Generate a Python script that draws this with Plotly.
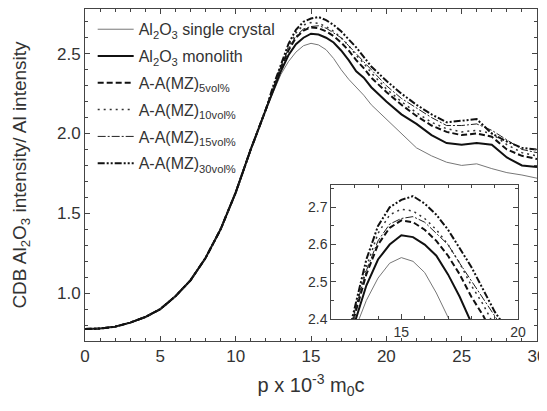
import plotly.graph_objects as go

# ---- data ----
p_rise = [0, 1, 2, 3, 4, 5, 6, 7, 8, 9, 10, 11, 12]
ratio_rise = [0.775, 0.778, 0.79, 0.815, 0.85, 0.90, 0.98, 1.08, 1.22, 1.40, 1.63, 1.90, 2.15]

p_tail = [12.5, 13, 13.5, 14, 14.5, 15, 15.5, 16, 16.5, 17, 17.5, 18, 18.5, 19,
          20, 21, 22, 23, 24, 25, 26, 27, 28, 29, 30]

single_crystal = [2.26, 2.37, 2.45, 2.51, 2.55, 2.565, 2.555, 2.525, 2.47, 2.40, 2.34, 2.29, 2.24, 2.18,
                  2.09, 2.00, 1.91, 1.86, 1.82, 1.80, 1.81, 1.78, 1.755, 1.74, 1.72]
monolith = [2.27, 2.39, 2.49, 2.56, 2.60, 2.625, 2.62, 2.60, 2.57, 2.52, 2.46, 2.39, 2.35, 2.29,
            2.20, 2.12, 2.06, 1.99, 1.94, 1.93, 1.94, 1.93, 1.85, 1.80, 1.79]
mz5 = [2.28, 2.41, 2.52, 2.60, 2.645, 2.665, 2.66, 2.64, 2.61, 2.57, 2.52, 2.46, 2.41, 2.35,
       2.26, 2.18, 2.11, 2.05, 2.01, 1.99, 2.00, 1.98, 1.90, 1.86, 1.84]
mz10 = [2.29, 2.42, 2.54, 2.63, 2.68, 2.695, 2.69, 2.67, 2.64, 2.60, 2.55, 2.49, 2.44, 2.38,
        2.28, 2.20, 2.13, 2.07, 2.03, 2.01, 2.02, 2.00, 1.93, 1.88, 1.86]
mz15 = [2.29, 2.42, 2.53, 2.61, 2.655, 2.67, 2.675, 2.66, 2.63, 2.60, 2.55, 2.50, 2.45, 2.40,
        2.30, 2.22, 2.16, 2.10, 2.05, 2.05, 2.06, 2.02, 1.96, 1.90, 1.88]
mz30 = [2.30, 2.43, 2.56, 2.65, 2.70, 2.72, 2.73, 2.71, 2.68, 2.64, 2.59, 2.54, 2.48, 2.42,
        2.33, 2.25, 2.18, 2.12, 2.07, 2.08, 2.09, 2.00, 1.95, 1.91, 1.90]

names = ["Al<sub>2</sub>O<sub>3</sub> single crystal",
         "Al<sub>2</sub>O<sub>3</sub> monolith",
         "A-A(MZ)<sub>5vol%</sub>",
         "A-A(MZ)<sub>10vol%</sub>",
         "A-A(MZ)<sub>15vol%</sub>",
         "A-A(MZ)<sub>30vol%</sub>"]
series = [single_crystal, monolith, mz5, mz10, mz15, mz30]
styles = [dict(color="#777777", width=1, dash="solid"),
          dict(color="#111111", width=2, dash="solid"),
          dict(color="#111111", width=2, dash="6px,3px"),
          dict(color="#333333", width=1.5, dash="2px,4px"),
          dict(color="#222222", width=1, dash="8px,2px,2px,2px"),
          dict(color="#111111", width=2, dash="7px,2px,2px,2px,2px,2px")]

FONT = "Liberation Sans, Arial, sans-serif"
fig = go.Figure()
px = p_rise + p_tail
for i, (nm, ys, st) in enumerate(zip(names, series, styles)):
    yy = ratio_rise + ys
    fig.add_trace(go.Scatter(x=px, y=yy, mode="lines", name=nm, line=st,
                             legendgroup=f"g{i}", xaxis="x", yaxis="y"))
    fig.add_trace(go.Scatter(x=px, y=yy, mode="lines", name=nm, line=st,
                             showlegend=False, xaxis="x2", yaxis="y2"))

axis_common = dict(showline=True, linecolor="#444", linewidth=1, mirror="allticks",
                   ticks="inside", ticklen=5, tickcolor="#444", showgrid=False,
                   zeroline=False, automargin=False, ticklabeloverflow="allow",
                   tickfont=dict(family=FONT, size=17, color="#333"))
inset_font = dict(family=FONT, size=14, color="#333")

# the page body adds an 8px offset, so the figure is sized to fit the window
fig.update_layout(
    width=539, height=403,
    margin=dict(l=77, r=10, t=1, b=70),
    paper_bgcolor="white", plot_bgcolor="white",
    font=dict(family=FONT, color="#333"),
    xaxis=dict(range=[0, 30], dtick=5, tick0=0,
               minor=dict(dtick=1, ticks="inside", ticklen=3, tickcolor="#444"),
               title=dict(text="p x 10<sup>-3</sup> m<sub>0</sub>c",
                          font=dict(size=20, family=FONT, color="#333"), standoff=12),
               **axis_common),
    yaxis=dict(range=[0.7, 2.78], tickvals=[1.0, 1.5, 2.0, 2.5], ticktext=["1.0", "1.5", "2.0", "2.5"],
               minor=dict(dtick=0.1, tick0=0, ticks="inside", ticklen=3, tickcolor="#444"),
               title=dict(text="CDB Al<sub>2</sub>O<sub>3</sub> intensity/ Al intensity",
                          font=dict(size=19, family=FONT, color="#333"), standoff=25),
               **axis_common),
    xaxis2=dict(domain=[0.545, 0.958], anchor="y2", range=[12, 20], tickvals=[15, 20],
                minor=dict(dtick=1, ticks="inside", ticklen=3, tickcolor="#444"),
                **{**axis_common, "tickfont": inset_font}),
    yaxis2=dict(domain=[0.066, 0.47], anchor="x2", range=[2.4, 2.76],
                tickvals=[2.4, 2.5, 2.6, 2.7],
                minor=dict(dtick=0.05, tick0=0, ticks="inside", ticklen=3, tickcolor="#444"),
                **{**axis_common, "tickfont": inset_font}),
    legend=dict(x=0.017, y=0.99, xanchor="left", yanchor="top", bgcolor="rgba(0,0,0,0)",
                font=dict(family=FONT, size=16, color="#333"), tracegroupgap=3,
                traceorder="grouped", itemwidth=36),
    showlegend=True,
)

fig.write_html("out.html")
